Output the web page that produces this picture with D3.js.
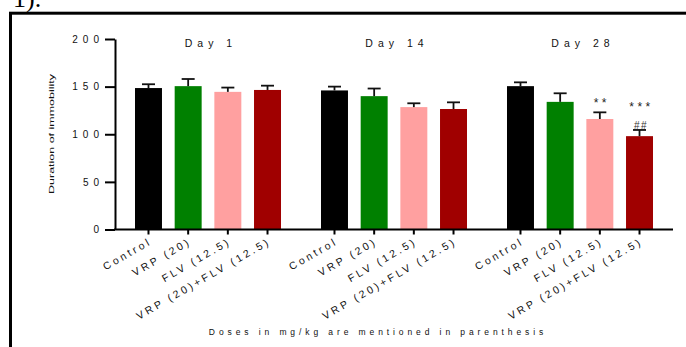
<!DOCTYPE html>
<html lang="en">
<head>
    <meta charset="UTF-8">
    <title>Duration of immobility</title>
    <script src="https://d3js.org/d3.v7.min.js"></script>
    <style>
        body { margin: 0; background: #fff; }
        text { font-family: "Liberation Sans", Arial, sans-serif; fill: #111; }
    </style>
</head>
<body>
    <div id="chart"></div>
    <script>
        // Data
        const days = ["Day 1", "Day 14", "Day 28"];
        const groups = ["Control", "VRP (20)", "FLV (12.5)", "VRP (20)+FLV (12.5)"];
        const colors = ["#000000", "#008000", "#ffa0a0", "#a00000"];
        const means = [
            [148.5, 150.5, 144.5, 146.5],
            [146, 140, 128.5, 126.5],
            [150.5, 134, 116, 98]
        ];
        const sems = [
            [4, 7.5, 4.5, 4.5],
            [4, 8, 4, 7],
            [4, 9, 7, 6.5]
        ];
        const stars = [
            ["", "", "", ""],
            ["", "", "", ""],
            ["", "", "**", "***"]
        ];
        const hashes = [
            ["", "", "", ""],
            ["", "", "", ""],
            ["", "", "", "##"]
        ];
        const yTicks = [0, 50, 100, 150, 200];

        const W = 686, H = 347;
        const svg = d3.select("#chart").append("svg")
            .attr("width", W)
            .attr("height", H);

        // outer frame
        svg.append("rect")
            .attr("x", 10.5).attr("y", 13.2)
            .attr("width", 700).attr("height", 400)
            .attr("fill", "none")
            .attr("stroke", "#000")
            .attr("stroke-width", 3);

        // "1)." panel tag, clipped at top like the source crop
        svg.append("text")
            .attr("x", 13).attr("y", 7)
            .style("font-family", "'Liberation Serif', serif")
            .style("font-size", "26px")
            .style("fill", "#000")
            .text("1).");

        const plotL = 115, plotR = 673, plotT = 39, plotB = 229.5;

        const y = d3.scaleLinear().domain([0, 200]).range([plotB, plotT]);
        const x0 = d3.scaleBand().domain(days).range([plotL, plotR])
            .paddingInner(0.215).paddingOuter(0.1075);
        const x1 = d3.scaleBand().domain(groups).range([0, x0.bandwidth()])
            .paddingInner(0.32);

        const rows = [];
        days.forEach((d, i) => groups.forEach((g, j) => rows.push({
            day: d, group: g, mean: means[i][j], sem: sems[i][j],
            star: stars[i][j], hash: hashes[i][j], color: colors[j]
        })));
        const cx = r => x0(r.day) + x1(r.group) + x1.bandwidth() / 2;

        // bars
        svg.append("g").selectAll("rect")
            .data(rows)
            .join("rect")
                .attr("x", r => x0(r.day) + x1(r.group))
                .attr("y", r => y(r.mean))
                .attr("width", x1.bandwidth())
                .attr("height", r => y(0) - y(r.mean))
                .attr("fill", r => r.color);

        // error bars (upper only)
        const eb = svg.append("g").attr("stroke", "#111").attr("stroke-width", 1.8);
        eb.selectAll("line.v")
            .data(rows)
            .join("line")
                .attr("class", "v")
                .attr("x1", cx).attr("x2", cx)
                .attr("y1", r => y(r.mean))
                .attr("y2", r => y(r.mean + r.sem));
        eb.selectAll("line.c")
            .data(rows)
            .join("line")
                .attr("class", "c")
                .attr("x1", r => cx(r) - 6.5).attr("x2", r => cx(r) + 6.5)
                .attr("y1", r => y(r.mean + r.sem))
                .attr("y2", r => y(r.mean + r.sem));

        // significance marks
        svg.append("g").selectAll("text")
            .data(rows.filter(r => r.hash))
            .join("text")
                .attr("x", r => cx(r) + 1.5)
                .attr("y", r => y(r.mean + r.sem) - 0.5)
                .attr("text-anchor", "middle")
                .style("font-size", "10px")
                .style("letter-spacing", "1.5px")
                .style("fill", "#333")
                .text(r => r.hash);
        svg.append("g").selectAll("text")
            .data(rows.filter(r => r.star))
            .join("text")
                .attr("x", r => cx(r) + 2)
                .attr("y", r => y(r.mean + r.sem) - (r.hash ? 19 : 5))
                .attr("text-anchor", "middle")
                .style("font-size", "12px")
                .style("letter-spacing", "3.5px")
                .style("fill", "#222")
                .text(r => r.star);

        // y axis
        const yAxis = svg.append("g")
            .attr("transform", `translate(${plotL},0)`)
            .call(d3.axisLeft(y).tickValues(yTicks).tickSize(10).tickPadding(1).tickSizeOuter(0));
        yAxis.select(".domain").attr("stroke-width", 2);
        yAxis.selectAll(".tick line").attr("stroke-width", 2);
        yAxis.selectAll(".tick text")
            .style("font-family", "'Liberation Sans', Arial, sans-serif")
            .style("font-size", "10px")
            .style("letter-spacing", "5px")
            .style("fill", "#111");

        // x axis baseline and ticks
        svg.append("line")
            .attr("x1", plotL - 1).attr("x2", plotR)
            .attr("y1", plotB).attr("y2", plotB)
            .attr("stroke", "#000").attr("stroke-width", 2);
        svg.append("g").selectAll("line")
            .data(rows)
            .join("line")
                .attr("x1", cx).attr("x2", cx)
                .attr("y1", plotB).attr("y2", plotB + 5)
                .attr("stroke", "#000").attr("stroke-width", 2);

        // x category labels
        svg.append("g").selectAll("text")
            .data(rows)
            .join("text")
                .attr("transform", r => `translate(${cx(r) + 4},${plotB + 14}) rotate(-30)`)
                .attr("text-anchor", "end")
                .style("font-size", "10.5px")
                .style("letter-spacing", "2.9px")
                .text(r => r.group);

        // day titles
        svg.append("g").selectAll("text")
            .data(days)
            .join("text")
                .attr("x", d => x0(d) + x0.bandwidth() / 2 + 3)
                .attr("y", 47)
                .attr("text-anchor", "middle")
                .style("font-size", "10.5px")
                .style("letter-spacing", "5px")
                .text(d => d);

        // y label, stretched along its length
        svg.append("text")
            .attr("transform", `translate(54,134) rotate(-90) scale(1.6,1)`)
            .attr("text-anchor", "middle")
            .style("font-size", "7.8px")
            .text("Duration of immobility");

        // footnote
        svg.append("text")
            .attr("x", 378).attr("y", 335)
            .attr("text-anchor", "middle")
            .style("font-size", "8.5px")
            .style("letter-spacing", "3.9px")
            .text("Doses in mg/kg are mentioned in parenthesis");
    </script>
</body>
</html>
